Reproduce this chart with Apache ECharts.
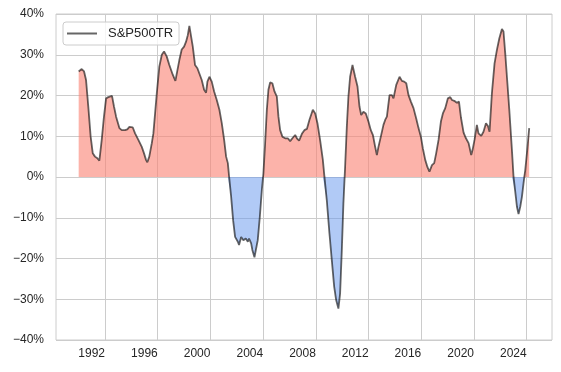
<!DOCTYPE html>
<html>
<head>
<meta charset="utf-8">
<script src="https://cdn.jsdelivr.net/npm/echarts@6/dist/echarts.min.js"></script>
<style>
html,body{margin:0;padding:0;background:#fff;}
#chart{width:561px;height:372px;}
</style>
</head>
<body>
<div id="chart"></div>
<script>
// Dates as decimal years, values in percent
const years = [
1990.00,1990.23,1990.41,1990.56,1990.73,1990.91,1991.07,1991.24,1991.42,1991.57,1991.75,1991.92,
1992.08,1992.25,1992.38,1992.53,1992.68,1992.84,1992.93,1993.09,1993.27,1993.52,1993.69,1993.85,
1994.10,1994.28,1994.53,1994.79,1994.96,1995.11,1995.21,1995.36,1995.55,1995.67,1995.93,1996.12,
1996.31,1996.48,1996.68,1996.88,1997.14,1997.34,1997.44,1997.64,1997.82,1998.00,1998.15,1998.28,
1998.40,1998.51,1998.66,1998.83,1999.01,1999.16,1999.34,1999.52,1999.67,1999.77,1999.92,2000.10,
2000.28,2000.48,2000.68,2000.86,2001.04,2001.19,2001.32,2001.42,2001.57,2001.72,2001.87,2002.08,
2002.17,2002.33,2002.50,2002.68,2002.84,2002.93,2003.09,2003.18,2003.34,2003.44,2003.59,2003.75,
2003.90,2004.02,2004.15,2004.28,2004.40,2004.53,2004.70,2004.86,2005.04,2005.16,2005.29,2005.46,
2005.67,2005.87,2006.05,2006.22,2006.43,2006.56,2006.73,2006.94,2007.13,2007.32,2007.51,2007.77,
2007.95,2008.12,2008.32,2008.53,2008.65,2008.83,2009.03,2009.21,2009.39,2009.54,2009.71,2009.84,
2009.97,2010.09,2010.22,2010.35,2010.47,2010.60,2010.78,2010.98,2011.16,2011.31,2011.44,2011.61,
2011.79,2011.99,2012.17,2012.33,2012.50,2012.63,2012.75,2012.93,2013.13,2013.26,2013.39,2013.59,
2013.77,2013.89,2014.10,2014.35,2014.53,2014.70,2014.86,2015.03,2015.21,2015.41,2015.61,2015.79,
2015.97,2016.12,2016.30,2016.47,2016.62,2016.81,2016.98,2017.13,2017.31,2017.49,2017.64,2017.82,
2018.02,2018.20,2018.33,2018.50,2018.70,2018.86,2019.01,2019.21,2019.39,2019.59,2019.79,2019.89,
2020.04,2020.22,2020.34,2020.55,2020.72,2020.91,2021.06,2021.18,2021.36,2021.56,2021.74,2021.92,
2022.12,2022.24,2022.37,2022.50,2022.68,2022.88,2023.00,2023.13,2023.26,2023.38,2023.51,2023.64,
2023.76,2023.89,2024.04,2024.19
];
const values = [
25.9,26.5,25.9,23.8,17.3,9.9,5.8,5.0,4.6,4.0,9.1,14.8,
19.3,19.6,19.3,19.9,17.3,14.8,14.4,12.0,11.5,11.5,11.7,12.3,
12.2,10.7,9.1,7.4,5.8,4.2,3.6,5.0,8.3,10.7,20.6,27.1,
30.0,30.8,29.6,27.5,25.1,23.6,23.8,28.7,31.3,32.0,33.2,34.8,
37.1,36.9,32.0,27.5,26.7,26.5,23.8,21.4,20.7,23.4,24.6,23.4,
21.0,18.9,16.5,13.2,9.1,5.0,3.4,0.0,-4.8,-10.6,-14.7,-15.9,
-16.7,-14.7,-15.5,-15.1,-15.9,-15.1,-16.3,-17.9,-19.7,-19.6,-15.5,-9.7,
-3.2,0.9,8.3,16.5,21.4,23.2,23.0,21.0,19.7,14.8,11.5,9.9,
9.5,9.5,8.8,9.5,10.3,9.5,8.9,10.6,11.5,11.8,14.0,16.5,
15.6,13.2,9.1,4.2,0.1,-5.7,-13.8,-20.4,-26.9,-30.2,-32.3,-28.6,
-17.9,-6.5,2.5,12.4,19.7,24.6,27.5,24.6,22.2,17.3,15.2,16.0,
15.6,13.6,11.5,10.3,7.4,5.4,7.4,9.9,12.8,14.0,14.8,20.1,
20.1,19.3,22.6,24.6,23.6,23.4,23.0,20.1,18.5,16.9,14.4,12.0,
9.9,7.0,4.2,2.4,1.3,2.9,3.4,5.8,9.1,13.6,15.6,16.9,
19.3,19.6,18.9,18.7,18.2,18.5,14.6,10.9,9.5,8.3,5.4,6.6,
9.1,12.8,10.7,10.1,11.1,13.2,12.5,11.1,20.6,27.9,31.2,34.0,
36.3,35.7,30.4,24.6,16.5,6.6,0.1,-3.6,-7.3,-9.1,-7.3,-4.8,
-1.5,1.7,6.6,12.0
];
const xTicks = [1992,1996,2000,2004,2008,2012,2016,2020,2024];
const yTicks = [-40,-30,-20,-10,0,10,20,30,40];
const seriesName = 'S&P500TR';

// Build line data and split fill data (adding zero crossings so fills meet the axis)
const lineData = years.map((y, i) => [y, values[i]]);
const pos = [], neg = [];
for (let i = 0; i < years.length; i++) {
  if (i > 0) {
    const a = values[i - 1], b = values[i];
    if ((a > 0 && b < 0) || (a < 0 && b > 0)) {
      const t = a / (a - b);
      const xc = years[i - 1] + t * (years[i] - years[i - 1]);
      pos.push([xc, 0]); neg.push([xc, 0]);
    }
  }
  pos.push([years[i], Math.max(values[i], 0)]);
  neg.push([years[i], Math.min(values[i], 0)]);
}

const textColor = '#262626';
const gridColor = '#cccccc';
const chart = echarts.init(document.getElementById('chart'), null, {renderer: 'canvas'});
chart.setOption({
  animation: false,
  backgroundColor: '#ffffff',
  grid: {left: 56, right: 9, top: 14, bottom: 32, show: true, borderColor: gridColor, borderWidth: 1, containLabel: false},
  legend: {
    left: 63, top: 22,
    data: [{name: seriesName, icon: 'rect'}],
    itemWidth: 30, itemHeight: 2,
    padding: [5, 6, 5, 4],
    borderColor: gridColor, borderWidth: 1, borderRadius: 3,
    backgroundColor: 'rgba(255,255,255,0.8)',
    textStyle: {color: textColor, fontSize: 13, fontFamily: 'Liberation Sans, Arial, sans-serif', padding: [0, 0, 0, 6]}
  },
  xAxis: {
    type: 'value', min: 1988.28, max: 2025.92,
    axisLine: {show: false},
    axisTick: {show: false, customValues: xTicks},
    splitLine: {show: true, lineStyle: {color: gridColor, width: 1}},
    axisLabel: {
      customValues: xTicks, align: 'right', margin: 8,
      color: textColor, fontSize: 12, fontFamily: 'Liberation Sans, Arial, sans-serif',
      formatter: v => String(v)
    }
  },
  yAxis: {
    type: 'value', min: -40, max: 40, interval: 10,
    axisLine: {show: false}, axisTick: {show: false},
    splitLine: {show: true, lineStyle: {color: gridColor, width: 1}},
    axisLabel: {
      margin: 12, color: textColor, fontSize: 12, fontFamily: 'Liberation Sans, Arial, sans-serif',
      formatter: v => (v < 0 ? '\u2212' + Math.abs(v) : String(v)) + '%'
    }
  },
  series: [
    {type: 'line', name: 'pos', data: pos, showSymbol: false, silent: true,
     lineStyle: {width: 0, opacity: 0}, areaStyle: {color: 'rgba(250,128,114,0.6)', opacity: 1}, z: 1},
    {type: 'line', name: 'neg', data: neg, showSymbol: false, silent: true,
     lineStyle: {width: 0, opacity: 0}, areaStyle: {color: 'rgba(100,149,237,0.5)', opacity: 1}, z: 1},
    {type: 'line', name: seriesName, data: lineData, showSymbol: false,
     itemStyle: {color: 'rgba(0,0,0,0.6)'},
     lineStyle: {width: 1.8, color: 'rgba(0,0,0,0.6)'}, z: 3}
  ]
});
</script>
</body>
</html>
